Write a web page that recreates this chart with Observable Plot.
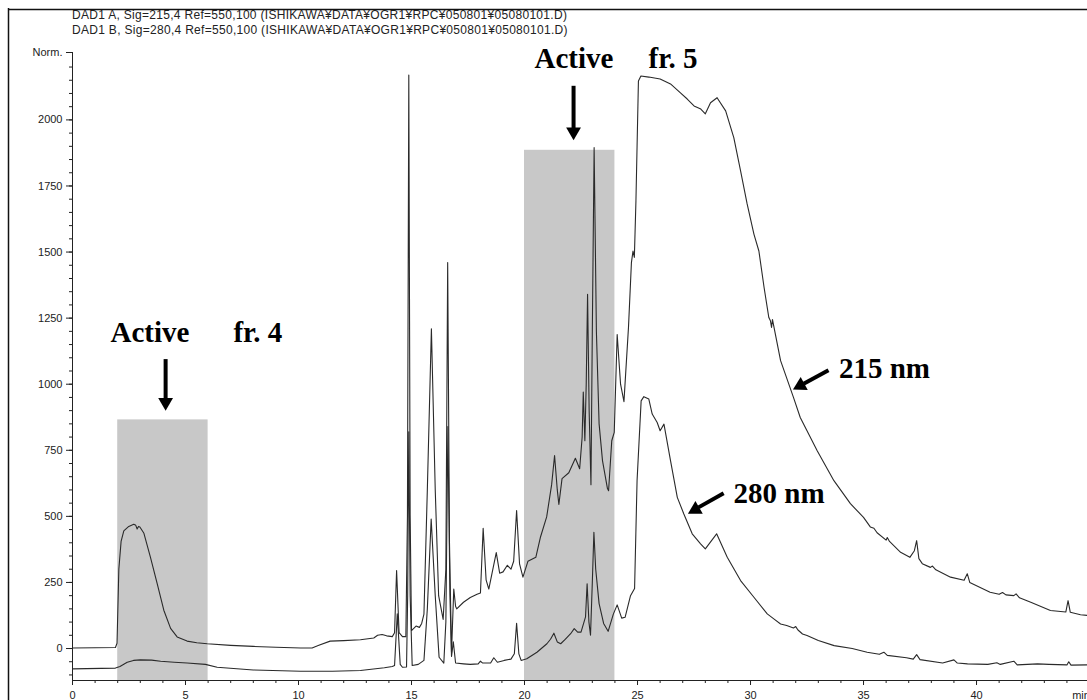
<!DOCTYPE html>
<html><head><meta charset="utf-8">
<script src="https://cdn.jsdelivr.net/npm/d3@7"></script>
<script src="https://cdn.jsdelivr.net/npm/@observablehq/plot@0.6"></script>
<style>
html,body{margin:0;padding:0;background:#fff;overflow:hidden;width:1087px;height:700px;}
#header{height:42px;box-sizing:border-box;padding:8px 0 0 72px;font:12px/15px "Liberation Sans",Arial,sans-serif;letter-spacing:0.3px;color:#222;white-space:pre;}
#chart svg{overflow:visible;}
</style></head><body>
<div id="header"></div>
<div id="chart"></div>
<script>
// ---- header text ----
const headerLines = [
  "DAD1 A, Sig=215,4 Ref=550,100 (ISHIKAWA¥DATA¥OGR1¥RPC¥050801¥05080101.D)",
  "DAD1 B, Sig=280,4 Ref=550,100 (ISHIKAWA¥DATA¥OGR1¥RPC¥050801¥05080101.D)"
];

// ---- 215 nm trace (retention time [min], signal [Norm.]) ----
const t215 = [0,1,1.9,1.97,2.05,2.15,2.27,2.49,2.71,2.8,2.86,2.92,2.98,3.16,3.45,3.75,4.04,4.34,4.63,5.07,5.5,5.96,7,8,9,10.1,10.6,10.9,11.4,12,12.74,13.33,13.5,13.7,13.9,14.15,14.25,14.34,14.45,14.6,14.75,14.82,14.88,14.94,15,15.2,15.35,15.45,15.55,15.7,15.88,16.05,16.2,16.4,16.52,16.6,16.68,16.77,16.87,16.95,17,17.3,17.6,17.9,18.05,18.17,18.3,18.42,18.6,18.75,18.9,19.05,19.24,19.4,19.52,19.65,19.78,19.93,20.15,20.5,20.7,20.98,21.2,21.33,21.45,21.52,21.66,21.96,22.25,22.44,22.55,22.6,22.67,22.73,22.79,22.86,22.94,23,23.08,23.18,23.3,23.45,23.67,23.72,23.86,23.97,24.1,24.25,24.4,24.6,24.73,24.8,24.86,24.93,25.04,25.15,25.5,26,26.46,26.9,27.2,27.5,27.8,28,28.23,28.52,28.9,29.26,29.56,29.85,30.15,30.37,30.6,30.81,30.88,30.93,30.97,31.33,31.9,32.2,32.95,33.69,34.42,35,35.3,35.46,35.6,36,36.05,36.15,36.64,37.05,37.25,37.35,37.45,37.6,37.96,38.05,38.2,38.85,39.45,39.59,39.7,40.6,41,41.15,41.3,41.65,41.75,41.9,42.4,43.27,43.95,44.05,44.15,44.6,44.91];
const s215 = [2,3,4,20,300,405,445,462,470,466,452,462,460,436,345,245,145,76,44,28,22,18,12,8,5,2,2,12,28,30,33,40,50,53,48,45,60,295,60,45,45,500,2170,500,68,85,80,95,130,600,1210,600,200,110,300,1460,400,-15,225,160,150,175,193,205,210,455,260,225,300,363,285,290,315,300,330,522,320,270,330,345,420,498,620,730,600,545,643,665,720,680,800,970,786,1000,1340,900,620,1200,1895,1200,850,711,605,597,786,818,1188,1000,934,1215,1460,1504,1480,1693,2147,2166,2162,2155,2136,2102,2079,2053,2041,2023,2065,2084,2034,1933,1807,1682,1568,1504,1366,1252,1240,1215,1245,1089,950,874,748,635,548,496,460,455,438,410,420,405,364,345,370,408,340,321,307,312,298,270,258,283,250,213,205,212,203,200,207,192,175,144,138,181,137,128,125];

// ---- 280 nm trace ----
const t280 = [0,1.9,2.1,2.42,2.7,3,3.5,3.9,4.5,5.07,5.88,6.4,8,10.1,11.5,12.74,13.8,14.15,14.25,14.37,14.5,14.6,14.78,14.83,14.88,14.94,15.03,15.3,15.55,15.7,15.87,16.05,16.22,16.43,16.52,16.61,16.7,16.77,16.85,16.95,17.3,17.6,17.95,18.05,18.15,18.5,18.64,18.8,19.1,19.4,19.55,19.65,19.75,19.85,20.1,20.55,20.99,21.15,21.3,21.45,21.6,21.8,22.04,22.2,22.35,22.5,22.7,22.77,22.85,22.92,23,23.07,23.15,23.3,23.5,23.7,23.93,24.1,24.3,24.45,24.69,24.87,24.98,25.16,25.28,25.5,25.65,25.87,26,26.17,26.46,26.76,27.05,27.42,27.79,28,28.5,28.97,29.56,30.15,30.74,31.03,31.33,31.6,31.9,32,32.1,32.3,32.5,33,33.7,34.5,35.16,35.7,35.9,36.05,36.9,37.2,37.35,37.5,38.5,39,39.15,39.6,40.5,40.9,41.05,41.65,41.8,42.7,43.2,44,44.08,44.18,44.91];
const s280 = [-77,-74,-68,-52,-45,-43,-44,-48,-52,-55,-60,-71,-81,-86,-86,-83,-73,-68,-64,131,-60,-71,-70,200,820,200,-64,-60,-45,150,490,200,-33,-55,100,840,200,-30,25,-55,-58,-60,-58,-48,-55,-55,-35,-52,-45,-40,-20,95,-20,-45,-39,-14,18,35,58,25,18,35,56,75,62,62,120,245,100,50,250,440,300,170,95,65,130,165,115,118,200,227,635,937,953,944,887,855,824,849,711,572,509,434,396,377,434,345,257,194,131,112,93,87,78,83,70,55,49,30,11,0,-14,-22,-14,-26,-35,-40,-23,-42,-55,-43,-55,-58,-60,-54,-60,-48,-62,-58,-60,-62,-50,-63,-62];

// ---- active fractions (shaded) ----
const fracStart = [2, 20];
const fracEnd = [6, 24];
const fracTop = [865, 1885];

// ---- axis ticks ----
const xMajor = [0,5,10,15,20,25,30,35,40];
const xMinor = d3.range(0, 45, 1);
const yMajor = [0,250,500,750,1000,1250,1500,1750,2000];
const yMinor = d3.range(-100, 2201, 50);
const xMax = 44.91, yMin = -121, yMax = 2255;

// ---- annotations (data units) ----
const labelText = ["Active", "fr. 4", "Active", "fr. 5", "215 nm", "280 nm"];
const labelT    = [1.68, 7.12, 20.44, 25.49, 33.91, 29.25];
const labelV    = [1194, 1194, 2232, 2232, 1058, 584];
const shaftT1 = [4.12, 22.17, 33.45, 28.81];
const shaftV1 = [1095, 2129, 1053, 587];
const shaftT2 = [4.12, 22.17, 32.35, 27.70];
const shaftV2 = [940, 1962, 1002, 534];
const headT = [4.12, 22.17, 32.21, 27.56];
const headV = [932, 1955, 995, 526];
const headAngle = [180, 180, 241.5, 240.3];

document.getElementById("header").textContent = headerLines.join("\n");

const d215 = t215.map((t, i) => ({t, v: s215[i]}));
const d280 = t280.map((t, i) => ({t, v: s280[i]}));
const fracs = fracStart.map((s, i) => ({s, e: fracEnd[i], top: fracTop[i]}));
const labels = labelText.map((label, i) => ({label, t: labelT[i], v: labelV[i]}));
const shafts = shaftT1.map((t1, i) => ({t1, v1: shaftV1[i], t2: shaftT2[i], v2: shaftV2[i]}));
const heads = headT.map((t, i) => ({t, v: headV[i], a: headAngle[i]}));
const serif = "'Liberation Serif','Times New Roman',serif";
const ink = "#222";

const chart = Plot.plot({
  width: 1087, height: 670,
  marginLeft: 72, marginRight: 0, marginTop: 10, marginBottom: 32,
  x: {domain: [0, xMax], label: null},
  y: {domain: [yMin, yMax], label: null},
  style: {fontFamily: "'Liberation Sans',Arial,sans-serif", fontSize: "11px", color: ink, background: "transparent", overflow: "visible"},
  marks: [
    // outer report frame (left and top edges)
    Plot.ruleX([0], {dx: -64, insetTop: -44, insetBottom: -40, stroke: "#111", strokeWidth: 1.5}),
    Plot.ruleY([yMax], {dy: -43, insetLeft: -64, insetRight: -10, stroke: "#111", strokeWidth: 1.5}),
    Plot.rect(fracs, {x1: "s", x2: "e", y1: () => yMin, y2: "top", fill: "#c8c8c8"}),
    Plot.line(d215, {x: "t", y: "v", stroke: "#2a2a2a", strokeWidth: 1.1}),
    Plot.line(d280, {x: "t", y: "v", stroke: "#2a2a2a", strokeWidth: 1.1}),
    Plot.ruleX([0], {stroke: ink}),
    Plot.ruleY([yMin], {stroke: ink}),
    Plot.axisX(xMinor, {tickSize: 3, tickFormat: () => "", label: null}),
    Plot.axisX(xMajor, {tickSize: 5, tickPadding: 6, tickFormat: d => String(d), label: null}),
    Plot.axisY(yMinor, {tickSize: 3, tickFormat: () => "", label: null}),
    Plot.axisY(yMajor, {tickSize: 6, tickPadding: 4, tickFormat: d => String(d), label: null}),
    Plot.axisY([yMax], {tickSize: 6, tickPadding: 4, tickFormat: () => "Norm.", label: null}),
    Plot.text(["min"], {x: () => 44.23, frameAnchor: "bottom", lineAnchor: "top", textAnchor: "start", dy: 11, text: d => d, fill: ink}),
    Plot.link(shafts, {x1: "t1", y1: "v1", x2: "t2", y2: "v2", stroke: "#000", strokeWidth: 4}),
    Plot.dot(heads, {x: "t", y: "v", symbol: "triangle", r: 5.5, fill: "#000", stroke: "none", rotate: "a"}),
    Plot.text(labels, {x: "t", y: "v", text: "label", textAnchor: "start", lineAnchor: "middle", fontFamily: serif, fontWeight: "bold", fontSize: 29, fill: "#000"})
  ]
});
document.getElementById("chart").append(chart);
</script>
</body></html>
